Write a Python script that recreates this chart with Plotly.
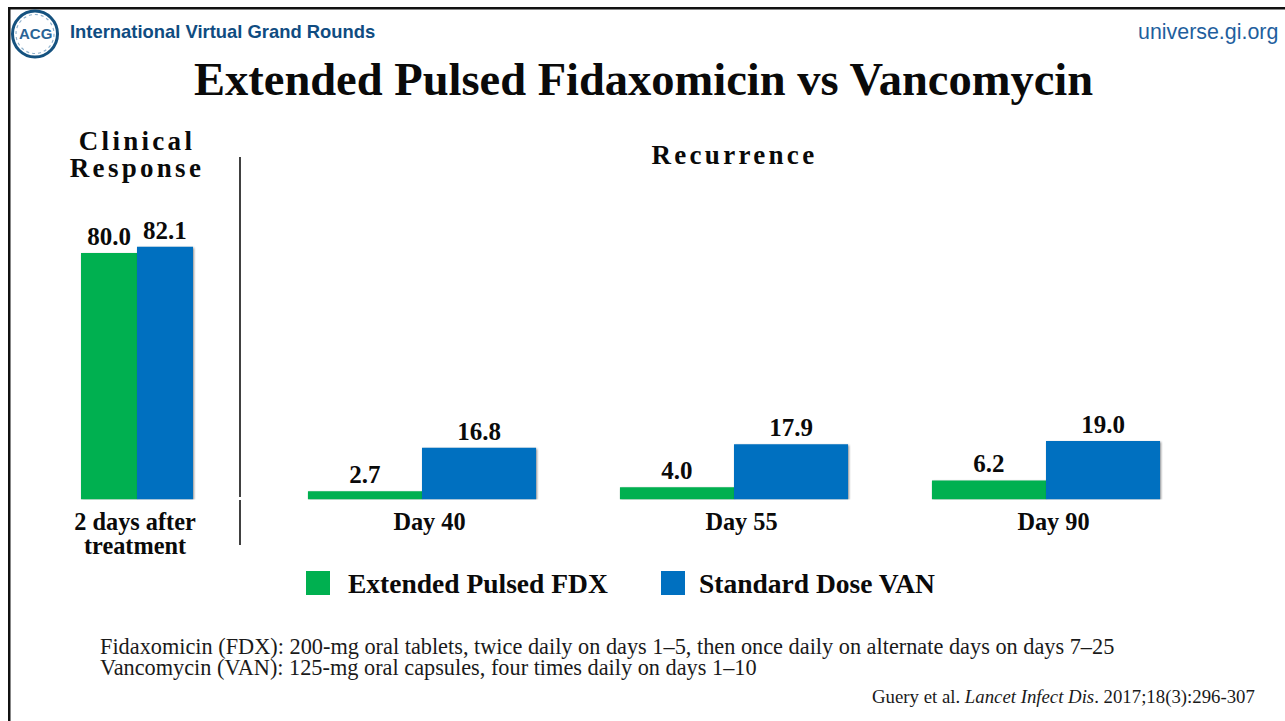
import plotly.graph_objects as go

W, H = 1285, 721

# ---- data ----
series_names = ["Extended Pulsed FDX", "Standard Dose VAN"]
clinical_cat = ["2 days after<br>treatment"]
clinical_fdx = [80.0]
clinical_van = [82.1]
recurrence_cat = ["Day 40", "Day 55", "Day 90"]
recurrence_fdx = [2.7, 4.0, 6.2]
recurrence_van = [16.8, 17.9, 19.0]

GREEN, BLUE = "#00B050", "#0070C0"
SERIF = "Liberation Serif"
SANS = "Liberation Sans"
INK = "#0a0a0a"
NAVY = "#0F4C81"


def px(x):
    return x / W


def py(y):
    return 1 - y / H


def bars(x, y, name, color, xa, ya):
    return go.Bar(
        x=x, y=y, name=name, xaxis=xa, yaxis=ya, showlegend=False,
        marker=dict(color=color, line=dict(width=0)),
        texttemplate="<b>%{y:.1f}</b>", textposition="outside", cliponaxis=False,
        textfont=dict(family=SERIF, size=25, color=INK),
    )


fig = go.Figure([
    bars(list(range(len(clinical_cat))), clinical_fdx, series_names[0], GREEN, "x", "y"),
    bars(list(range(len(clinical_cat))), clinical_van, series_names[1], BLUE, "x", "y"),
    bars(list(range(len(recurrence_cat))), recurrence_fdx, series_names[0], GREEN, "x2", "y2"),
    bars(list(range(len(recurrence_cat))), recurrence_van, series_names[1], BLUE, "x2", "y2"),
])


def note(text, x, y, size, family=SERIF, color=INK, anchor="center", bold=False):
    if bold:
        text = f"<b>{text}</b>"
    return dict(text=text, x=px(x), y=py(y), xref="paper", yref="paper",
                xanchor=anchor, yanchor="middle", showarrow=False,
                align=anchor if anchor != "right" else "right",
                borderpad=0, borderwidth=0,
                font=dict(family=family, size=size, color=color))


annotations = [
    note("International Virtual Grand Rounds", 70, 32, 18.4, SANS, NAVY, "left", True),
    note("universe.gi.org", 1278, 32, 21.4, SANS, "#1F5F9E", "right"),
    note("Extended Pulsed Fidaxomicin vs Vancomycin", 643, 80, 46.5, bold=True),
    note("Clinical<br>Response", 137, 158.5, 27, bold=True),
    note("Recurrence", 734, 155, 27, bold=True),
    note(series_names[0], 348, 583, 27.5, anchor="left", bold=True),
    note(series_names[1], 699, 583, 27.5, anchor="left", bold=True),
    note("Fidaxomicin (FDX): 200-mg oral tablets, twice daily on days 1–5, then once daily on alternate days on days 7–25"
         "<br>Vancomycin (VAN): 125-mg oral capsules, four times daily on days 1–10",
         100, 660.6, 22.3, color="#1a1a1a", anchor="left"),
    note("Guery et al. <i>Lancet Infect Dis</i>. 2017;18(3):296-307", 1255, 697, 18.8,
         color="#1a1a1a", anchor="right"),
    note("ACG", 35, 34, 15, SANS, "#2A6496", bold=True),
]


def rect(x0, y0, x1, y1, color):
    return dict(type="rect", xref="paper", yref="paper", x0=px(x0), x1=px(x1),
                y0=py(y0), y1=py(y1), fillcolor=color, line=dict(width=0))


def vline(x, y0, y1, width=1.6, color="#111111"):
    return dict(type="line", xref="paper", yref="paper", x0=px(x), x1=px(x),
                y0=py(y0), y1=py(y1), line=dict(color=color, width=width))


shapes = [
    # slide frame
    rect(8, 7, W, 9.5, "#111111"),
    rect(8, 7, 10.5, H, "#111111"),
    # divider
    vline(240, 157, 497),
    vline(240, 500, 545),
    # legend swatches
    rect(306, 571, 330, 595, GREEN),
    rect(661, 571, 685, 595, BLUE),
    # logo ring
    dict(type="circle", xref="paper", yref="paper", x0=px(12.5), x1=px(57.5),
         y0=py(11), y1=py(57), fillcolor="white", line=dict(color="#15527F", width=3)),
    dict(type="circle", xref="paper", yref="paper", x0=px(16), x1=px(54),
         y0=py(14.5), y1=py(53.5), fillcolor="rgba(0,0,0,0)",
         line=dict(color="#8FB0CB", width=1.2, dash="dot")),
]

Y_MAX = 90
PX_PER_UNIT = 3.08
y_domain = [py(499.5), py(499.5 - Y_MAX * PX_PER_UNIT)]
y_axis = dict(range=[0, Y_MAX], domain=y_domain, visible=False, fixedrange=True)
BARGAP = 0.269


def x_axis(left, right, labels, shift, anchor):
    return dict(
        range=[-0.5, len(labels) - 0.5], domain=[px(left), px(right)], anchor=anchor,
        tickmode="array", tickvals=[i + shift for i in range(len(labels))], ticktext=labels,
        ticks="", showgrid=False, zeroline=False, showline=False, fixedrange=True,
        tickangle=0, ticklabelstandoff=5,
        tickfont=dict(family=SERIF, size=24.3, color=INK),
    )


fig.update_layout(
    width=W, height=H, margin=dict(l=0, r=0, t=0, b=0), autosize=False,
    paper_bgcolor="white", plot_bgcolor="white", showlegend=False,
    barmode="group", bargap=BARGAP, bargroupgap=0,
    xaxis=x_axis(60.4, 213.6, [f"<b>{c}</b>" for c in clinical_cat], -0.013, "y"),
    xaxis2=x_axis(266, 1202, [f"<b>{c}</b>" for c in recurrence_cat], 0.024, "y2"),
    yaxis=dict(y_axis, anchor="x"),
    yaxis2=dict(y_axis, anchor="x2"),
    annotations=annotations,
    shapes=shapes,
)

post = """
document.documentElement.style.overflow='hidden';
document.body.style.margin='0';
var st=document.createElement('style');
st.textContent='.barlayer .point path{filter:drop-shadow(1px 1px 1px rgba(0,0,0,.45));}';
document.head.appendChild(st);
document.querySelectorAll('text').forEach(function(t){
  var s=t.textContent.trim();
  if(s.indexOf('Clinical')===0||s==='Recurrence'){t.style.letterSpacing='3.3px';}
});
document.querySelectorAll('tspan.line').forEach(function(t){
  var s=t.textContent;
  if(s==='treatment'||s==='Response'){t.setAttribute('dy','1.0em');}
  if(s.indexOf('Vancomycin (VAN)')===0){t.setAttribute('dy','0.94em');}
});
"""
fig.write_html("out.html", post_script=post, config={"displayModeBar": False})
